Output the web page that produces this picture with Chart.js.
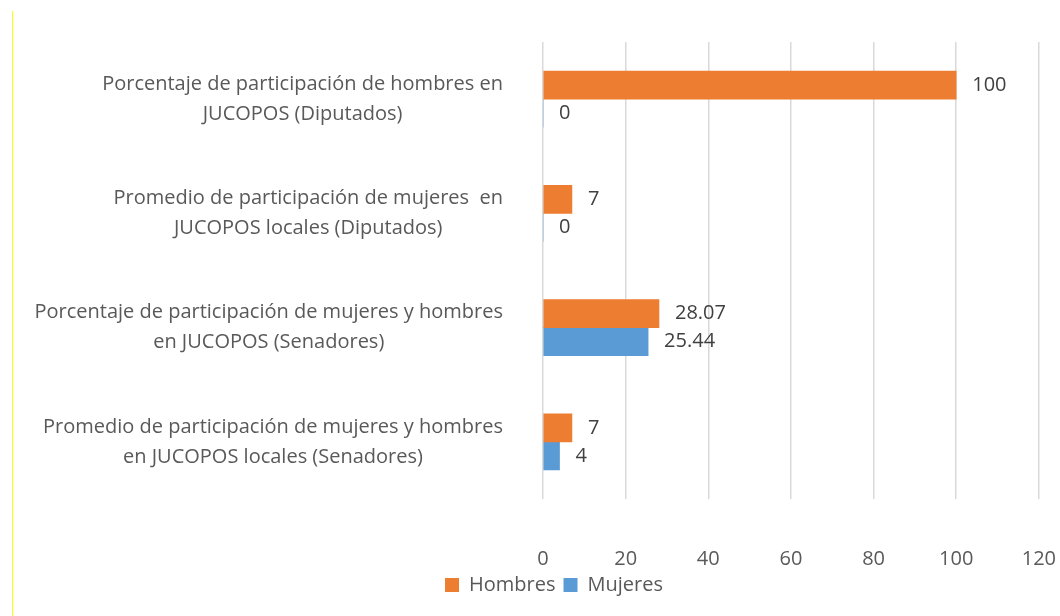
<!DOCTYPE html>
<html>
<head>
<meta charset="utf-8">
<script src="https://cdn.jsdelivr.net/npm/chart.js@4/dist/chart.umd.min.js"></script>
<style>
  html, body { margin: 0; padding: 0; background: #ffffff; }
  #wrap { position: relative; width: 1060px; height: 616px; }
  #yellow { position: absolute; left: 12px; top: 11px; width: 1px; height: 605px; background: #ffff00; }
  canvas { position: absolute; left: 0; top: 0; }
</style>
</head>
<body>
<div id="wrap">
  <canvas id="myChart" width="1060" height="616"></canvas>
  <div id="yellow"></div>
</div>
<script>
// categories, each split in the two lines shown in the picture
var categories = [
  ["Porcentaje de participación de hombres en", "JUCOPOS (Diputados)"],
  ["Promedio de participación de mujeres  en", "JUCOPOS locales (Diputados)"],
  ["Porcentaje de participación de mujeres y hombres", "en JUCOPOS (Senadores)"],
  ["Promedio de participación de mujeres y hombres", "en JUCOPOS locales (Senadores)"]
];
var hombres = [100, 7, 28.07, 7];
var mujeres = [0, 0, 25.44, 4];
var valueLabels = [
  ["100", "7", "28.07", "7"],
  ["0", "0", "25.44", "4"]
];
var xTicks = [0, 20, 40, 60, 80, 100, 120];

var FONT = "'Open Sans', sans-serif";

// draws the wrapped category names, right edge at 503, lines centred in their block
var catLabels = {
  id: 'catLabels',
  afterDraw: function(chart) {
    var ctx = chart.ctx;
    var y = chart.scales.y;
    ctx.save();
    ctx.font = "20px " + FONT;
    ctx.fillStyle = "#595959";
    ctx.textAlign = "center";
    ctx.textBaseline = "middle";
    for (var i = 0; i < categories.length; i++) {
      var lines = categories[i];
      var w = 0;
      lines.forEach(function(l) { w = Math.max(w, ctx.measureText(l).width); });
      var cx = 503 - w / 2;
      var cy = y.getPixelForValue(i);
      ctx.fillText(lines[0], cx, cy - 15);
      ctx.fillText(lines[1], cx, cy + 15);
    }
    ctx.restore();
  }
};

// value labels right of each bar
var barValues = {
  id: 'barValues',
  afterDatasetsDraw: function(chart) {
    var ctx = chart.ctx;
    ctx.save();
    ctx.font = "20px " + FONT;
    ctx.fillStyle = "#404040";
    ctx.textAlign = "left";
    ctx.textBaseline = "middle";
    chart.data.datasets.forEach(function(ds, d) {
      chart.getDatasetMeta(d).data.forEach(function(bar, i) {
        ctx.fillText(valueLabels[d][i], bar.x + 16, bar.y);
      });
    });
    ctx.restore();
  }
};

var ctx = document.getElementById('myChart').getContext('2d');
var myChart = new Chart(ctx, {
  type: 'bar',
  data: {
    labels: categories.map(function(c) { return c.join(' '); }),
    datasets: [{
      label: 'Hombres',
      data: hombres,
      backgroundColor: '#ED7D31',
      barThickness: 28
    }, {
      label: 'Mujeres',
      data: mujeres,
      backgroundColor: '#5B9BD5',
      barThickness: 28
    }]
  },
  options: {
    indexAxis: 'y',
    responsive: false,
    animation: false,
    layout: {
      padding: { left: 48, right: 0, top: 42, bottom: 11 }
    },
    scales: {
      x: {
        min: 0,
        max: 120,
        afterBuildTicks: function(axis) {
          axis.ticks = xTicks.map(function(v) { return { value: v }; });
        },
        afterFit: function(axis) {
          axis.height = 68;
        },
        grid: { color: '#D9D9D9', lineWidth: 1.5, drawTicks: true, tickLength: 44, tickColor: 'rgba(0,0,0,0)' },
        border: { display: false },
        ticks: {
          padding: 4,
          color: '#595959',
          font: { family: FONT, size: 20 }
        }
      },
      y: {
        afterFit: function(axis) {
          axis.width = 495;
        },
        grid: { display: false },
        border: { display: false },
        ticks: { display: false }
      }
    },
    plugins: {
      legend: {
        position: 'bottom',
        labels: {
          boxWidth: 14,
          boxHeight: 14,
          padding: 8,
          color: '#595959',
          font: { family: FONT, size: 20 }
        }
      },
      tooltip: { enabled: false }
    }
  },
  plugins: [catLabels, barValues]
});
</script>
</body>
</html>
